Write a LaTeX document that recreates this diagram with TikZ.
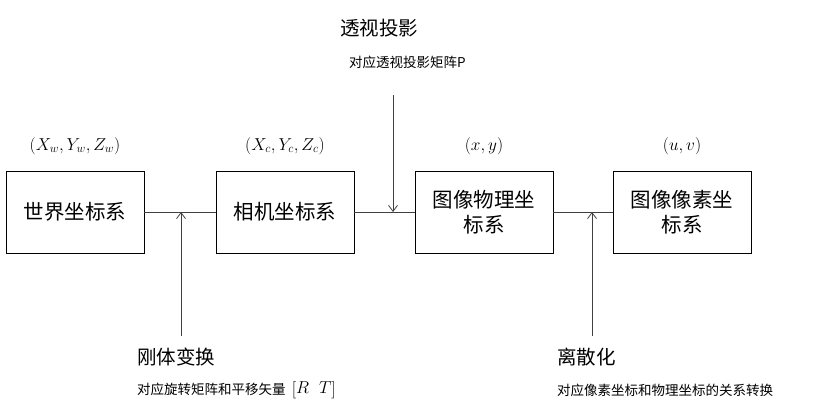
\documentclass[tikz,border=0pt]{standalone}
\usepackage{amsmath}
\usepackage{fontspec}
\setmainfont{Noto Sans CJK SC}
\usetikzlibrary{arrows.meta}
\begin{document}
\begin{tikzpicture}[x=1pt,y=-1pt,
  box/.style={draw,line width=0.9pt,minimum width=138pt,minimum height=82pt,inner sep=0pt,align=center,font=\fontsize{20.5}{25}\selectfont},
  ln/.style={line width=0.8pt,draw=black!75},
  arr/.style={ln,-{Straight Barb[length=6pt,width=9pt]}},
  big/.style={font=\fontsize{19.5}{23}\selectfont,anchor=west,inner sep=0pt},
  small/.style={font=\fontsize{13.5}{16}\selectfont,anchor=west,inner sep=0pt},
  crd/.style={font=\fontsize{18}{21}\selectfont,inner sep=0pt}]
\useasboundingbox (0,0) rectangle (827,420);
\node[box] (w) at (75,212) {世界坐标系};
\node[box] (c) at (285,212) {相机坐标系};
\node[box] (i) at (484,212) {图像物理坐\\标系};
\node[box] (p) at (682,212) {图像像素坐\\标系};
\node[crd] (cw) at (75,146) {$(X_w,Y_w,Z_w)$};
\node[crd] (cc) at (285,146) {$(X_c,Y_c,Z_c)$};
\node[crd] (ci) at (484,146) {$(x,y)$};
\node[crd] (cp) at (682,146) {$(u,v)$};
\draw[ln] (w.east) -- (c.west);
\draw[ln] (c.east) -- (i.west);
\draw[ln] (i.east) -- (p.west);
\coordinate (j1) at (181,212); \coordinate (s1) at (181,336);
\coordinate (j2) at (393,212); \coordinate (s2) at (393,95);
\coordinate (j3) at (592,212); \coordinate (s3) at (592,336);
\draw[arr] (s1) -- (j1);
\draw[arr] (s2) -- (j2);
\draw[arr] (s3) -- (j3);
\node[big] (t1) at (340,28) {透视投影};
\node[small] (t1s) at (349,62) {对应透视投影矩阵P};
\node[big] (t2) at (137,357) {刚体变换};
\node[small] (t2s) at (137,390) {对应旋转矩阵和平移矢量\ \ \fontsize{16}{19}\selectfont$\begin{bmatrix}R & T\end{bmatrix}$};
\node[big] (t3) at (557,357) {离散化};
\node[small] (t3s) at (557,390) {对应像素坐标和物理坐标的关系转换};
\end{tikzpicture}
\end{document}
